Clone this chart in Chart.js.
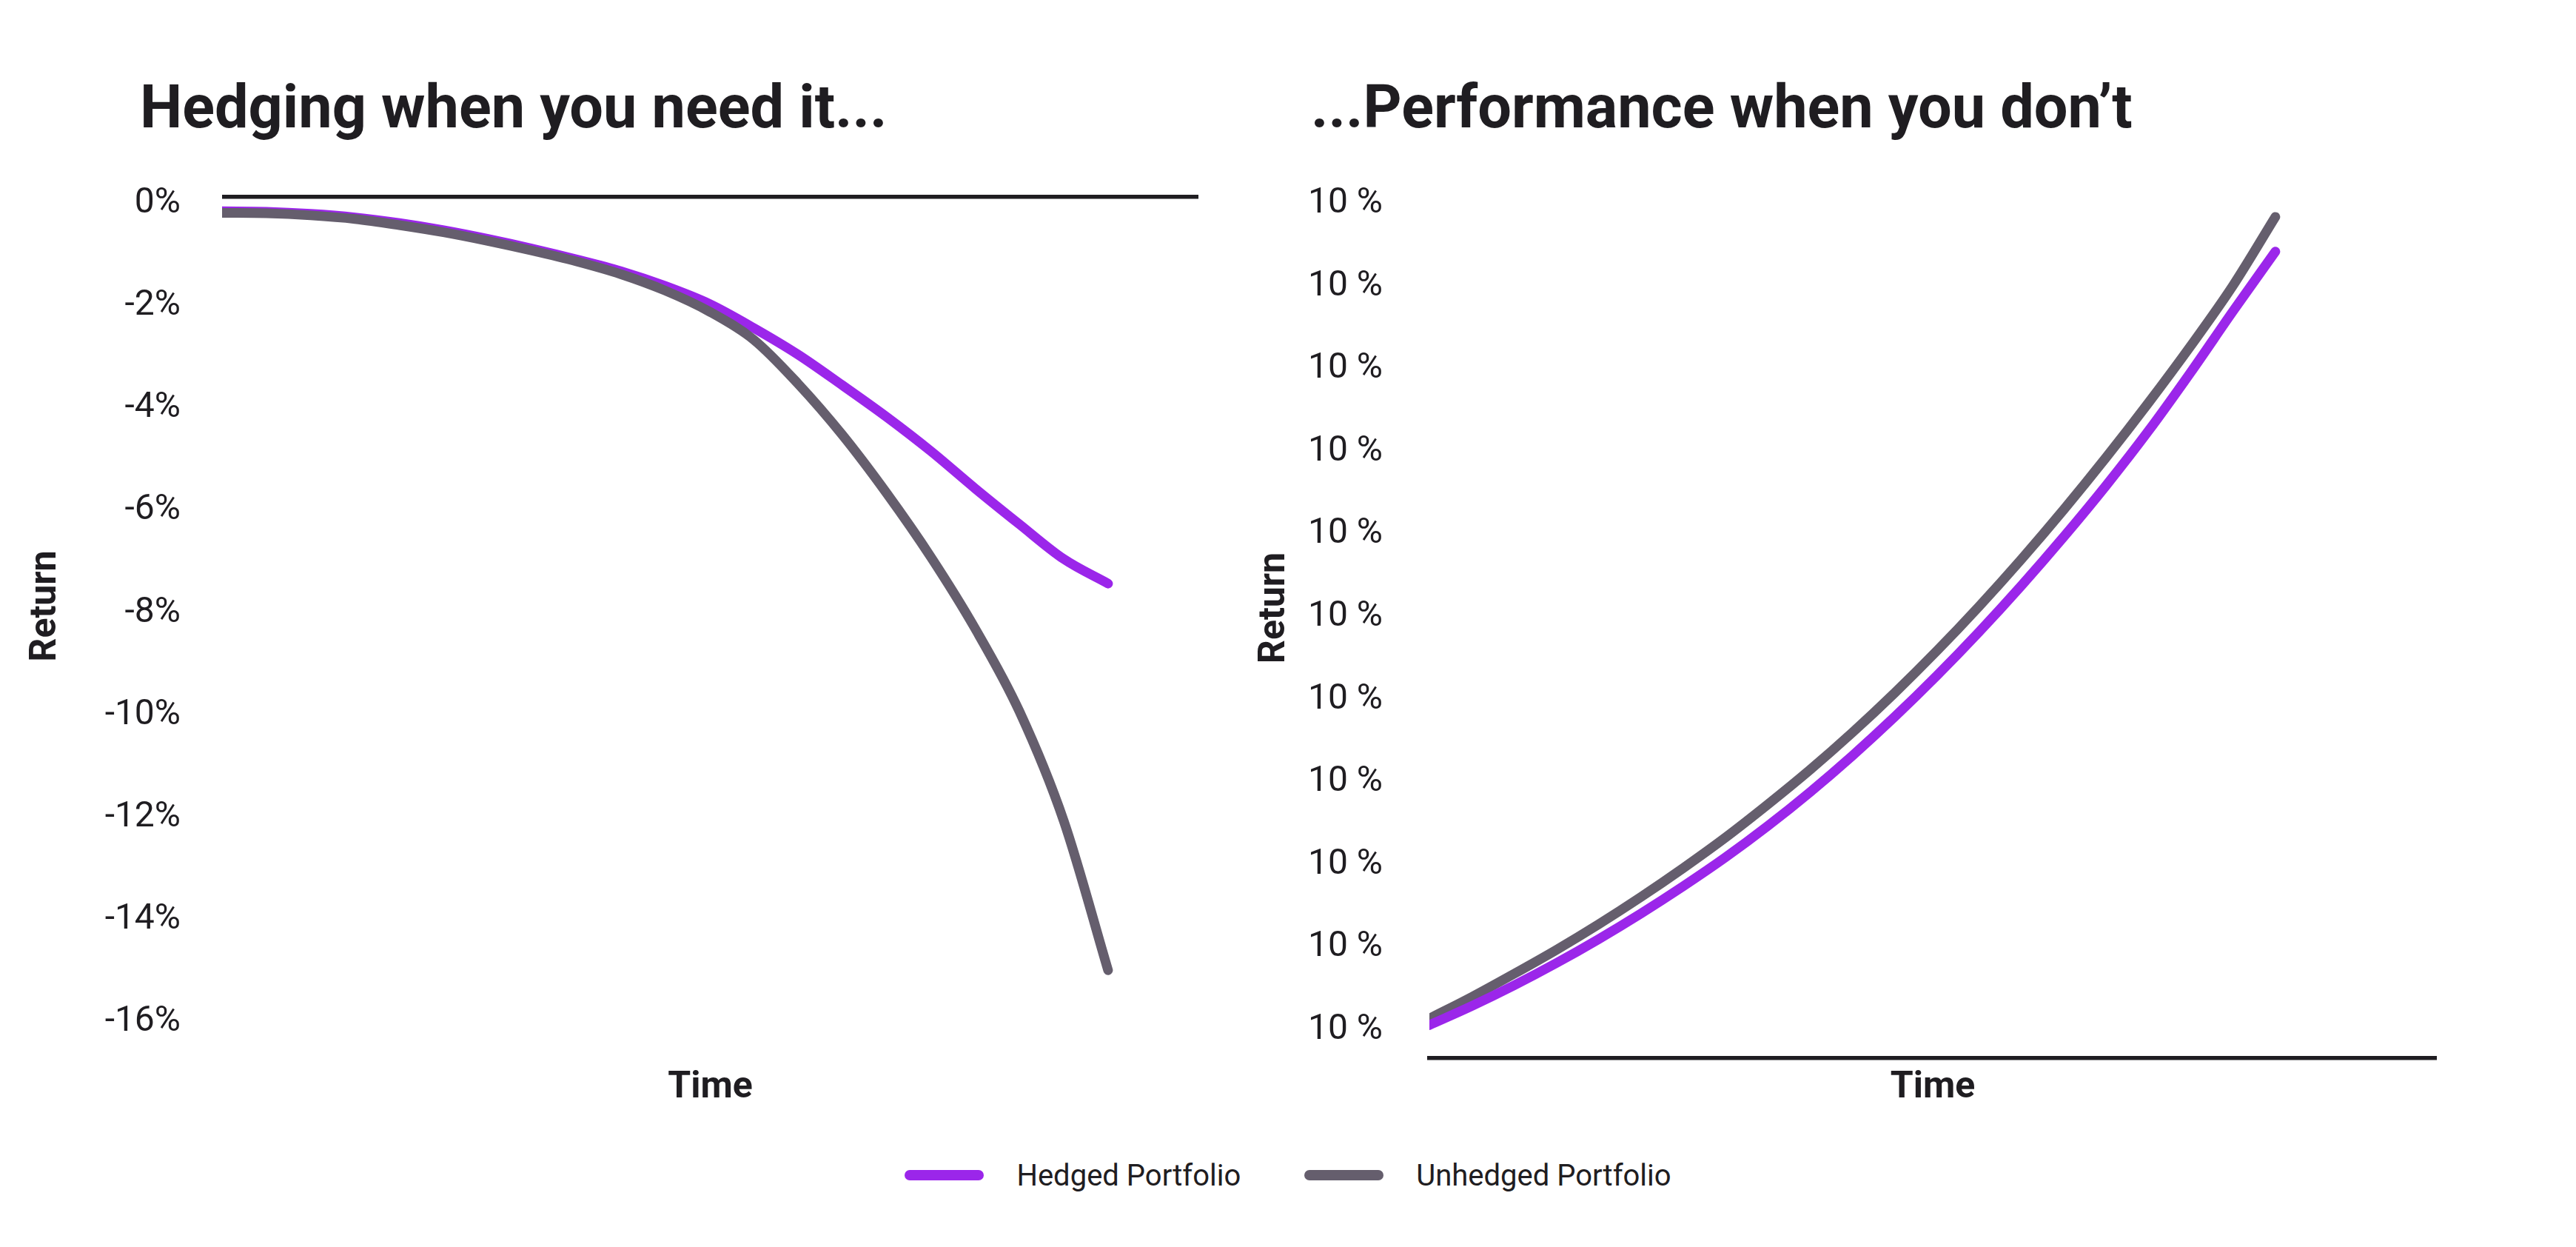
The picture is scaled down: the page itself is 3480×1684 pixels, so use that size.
<!DOCTYPE html>
<html>
<head>
<meta charset="utf-8">
<title>Hedging vs Performance</title>
<script src="https://cdn.jsdelivr.net/npm/chart.js@4.4.1/dist/chart.umd.min.js"></script>
<style>
  html, body { margin: 0; padding: 0; background: #fff; }
  body { width: 3480px; height: 1684px; position: relative; overflow: hidden; font-family: Roboto, sans-serif; color: #1f1d21; }
  .title { position: absolute; top: 104px; margin: 0; font-size: 81px; font-weight: 700; line-height: 1; white-space: nowrap; }
  #leftTitle { left: 189px; }
  #rightTitle { left: 1771px; }
  #leftChart { position: absolute; left: 0; top: 0; }
  #rightChart { position: absolute; left: 1690px; top: 0; }
  #legend { position: absolute; left: 0; top: 1567px; width: 3480px; height: 40px; display: flex; justify-content: center; align-items: center; }
  .legend-item { display: flex; align-items: center; margin: 0 43px; font-size: 40px; }
  .legend-swatch { display: inline-block; width: 107px; height: 14px; border-radius: 7px; margin-right: 44px; }
</style>
</head>
<body>
<div class="title" id="leftTitle">Hedging when you need it...</div>
<div class="title" id="rightTitle">...Performance when you don’t</div>
<canvas id="leftChart" width="1690" height="1540"></canvas>
<canvas id="rightChart" width="1790" height="1540"></canvas>
<div id="legend"></div>

<script>
// time steps shared by both panels
const timeSteps = [0, 0.5, 1, 1.5, 2, 2.5, 3, 3.5, 4, 4.5, 5, 5.5, 6, 6.5, 7, 7.5, 8, 8.5, 9, 9.5, 10];

// left panel: falling market (% return)
const hedgedDown = [-0.28, -0.29, -0.33, -0.40, -0.51, -0.65, -0.82, -1.01, -1.22, -1.45, -1.74,
  -2.09, -2.56, -3.08, -3.68, -4.30, -4.97, -5.70, -6.40, -7.08, -7.56];
const unhedgedDown = [-0.31, -0.32, -0.36, -0.43, -0.55, -0.69, -0.86, -1.05, -1.26, -1.51, -1.83,
  -2.24, -2.79, -3.65, -4.65, -5.79, -7.04, -8.44, -10.06, -12.20, -15.12];

// right panel: rising market (position on the return axis)
const hedgedUp = [0.06, 0.29, 0.54, 0.81, 1.10, 1.41, 1.74, 2.09, 2.47, 2.88, 3.32,
  3.79, 4.29, 4.82, 5.38, 5.97, 6.59, 7.25, 7.96, 8.70, 9.42];
const unhedgedUp = [0.14, 0.40, 0.68, 0.97, 1.28, 1.61, 1.96, 2.33, 2.73, 3.15, 3.60,
  4.08, 4.59, 5.13, 5.70, 6.30, 6.93, 7.59, 8.28, 9.01, 9.84];

const leftTickValues = [0, -2, -4, -6, -8, -10, -12, -14, -16];
const leftTickLabels = ['0%', '-2%', '-4%', '-6%', '-8%', '-10%', '-12%', '-14%', '-16%'];
const rightTickValues = [0, 1, 2, 3, 4, 5, 6, 7, 8, 9, 10];
const rightTickLabels = ['10 %', '10 %', '10 %', '10 %', '10 %', '10 %', '10 %', '10 %', '10 %', '10 %', '10 %'];

const seriesNames = ['Hedged Portfolio', 'Unhedged Portfolio'];
const seriesColors = ['#9b26ea', '#655e6d'];
const inkColor = '#1f1d21';

Chart.defaults.font.family = 'Roboto';
Chart.defaults.color = inkColor;

function toPoints(values) {
  return timeSteps.map((t, i) => ({ x: t, y: values[i] }));
}

function lineDataset(name, values, color, order) {
  return {
    label: name,
    data: toPoints(values),
    borderColor: color,
    backgroundColor: color,
    borderWidth: 13,
    borderCapStyle: 'round',
    borderJoinStyle: 'round',
    pointRadius: 0,
    cubicInterpolationMode: 'monotone',
    order: order
  };
}

function axisTitle(text, padding) {
  return { display: true, text: text, font: { size: 50, weight: 'bold' }, color: inkColor, padding: padding };
}

const leftChart = new Chart(document.getElementById('leftChart'), {
  type: 'line',
  data: {
    datasets: [
      lineDataset(seriesNames[0], hedgedDown, seriesColors[0], 1),
      lineDataset(seriesNames[1], unhedgedDown, seriesColors[1], 0)
    ]
  },
  options: {
    responsive: false,
    animation: false,
    layout: { padding: { top: 266, bottom: 41, left: 0, right: 71 } },
    plugins: { legend: { display: false }, tooltip: { enabled: false } },
    scales: {
      x: {
        type: 'linear',
        min: 0,
        max: 11.02,
        grid: { display: false, drawTicks: false },
        border: { display: false },
        ticks: { display: false },
        title: axisTitle('Time', { top: 68, bottom: 0 })
      },
      y: {
        min: -16,
        max: 0,
        afterBuildTicks: (scale) => { scale.ticks = leftTickValues.map(v => ({ value: v })); },
        afterFit: (scale) => { scale.width = 300; },
        grid: {
          drawTicks: false,
          lineWidth: 5.5,
          // only the zero line is shown
          color: (ctx) => (ctx.tick && ctx.tick.value === 0 ? inkColor : 'rgba(0,0,0,0)')
        },
        border: { display: false },
        ticks: {
          padding: 56,
          labelOffset: 9,
          font: { size: 48 },
          color: inkColor,
          callback: (value) => leftTickLabels[leftTickValues.indexOf(value)]
        },
        title: axisTitle('Return', { top: 32, bottom: 0 })
      }
    }
  }
});

const rightChart = new Chart(document.getElementById('rightChart'), {
  type: 'line',
  data: {
    datasets: [
      lineDataset(seriesNames[0], hedgedUp, seriesColors[0], 0),
      lineDataset(seriesNames[1], unhedgedUp, seriesColors[1], 1)
    ]
  },
  options: {
    responsive: false,
    animation: false,
    layout: { padding: { top: 213, bottom: 41, left: 0, right: 189 } },
    plugins: { legend: { display: false }, tooltip: { enabled: false } },
    scales: {
      x: {
        type: 'linear',
        min: 0,
        max: 11.9,
        grid: { display: false, drawTicks: false },
        border: { display: true, color: inkColor, width: 5.5 },
        ticks: { display: false },
        title: axisTitle('Time', { top: 10, bottom: 0 })
      },
      y: {
        min: -0.34,
        max: 10.556,
        afterBuildTicks: (scale) => { scale.ticks = rightTickValues.map(v => ({ value: v })); },
        afterFit: (scale) => { scale.width = 241; },
        grid: { display: false, drawTicks: false },
        border: { display: false },
        ticks: {
          padding: 63,
          font: { size: 48 },
          color: inkColor,
          callback: (value) => rightTickLabels[rightTickValues.indexOf(value)]
        },
        title: axisTitle('Return', { top: 2, bottom: 0 })
      }
    }
  }
});

// shared legend under both panels
function buildLegend() {
  const legend = document.getElementById('legend');
  seriesNames.forEach((name, i) => {
    const item = document.createElement('div');
    item.className = 'legend-item';
    const swatch = document.createElement('span');
    swatch.className = 'legend-swatch';
    swatch.style.background = seriesColors[i];
    const label = document.createElement('span');
    label.textContent = name;
    item.appendChild(swatch);
    item.appendChild(label);
    legend.appendChild(item);
  });
}

buildLegend();
</script>
</body>
</html>
